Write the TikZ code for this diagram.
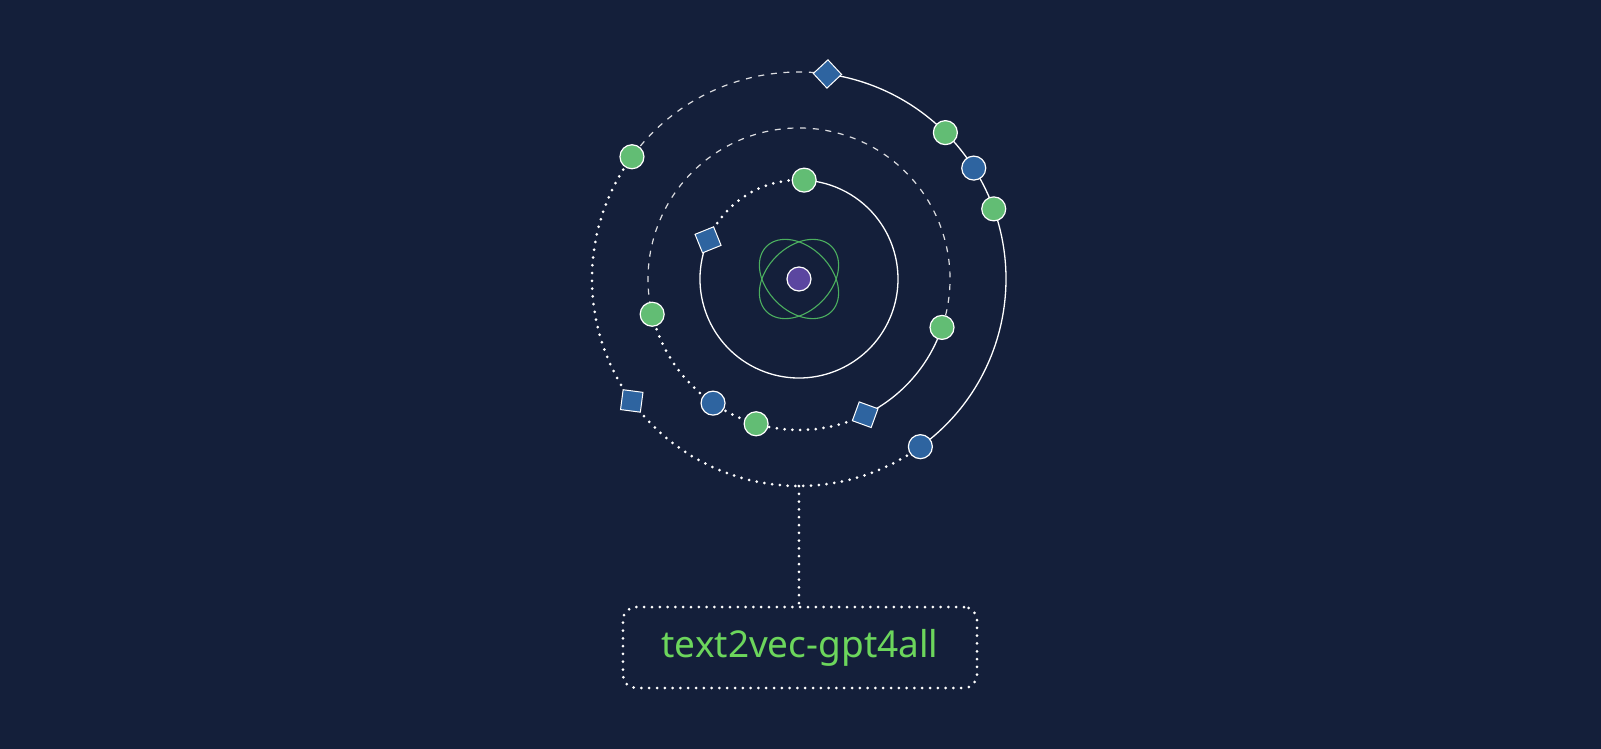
\documentclass[tikz,border=0pt]{standalone}
\usepackage{fontspec}
\newfontfamily\labelfont{Noto Sans}
\usetikzlibrary{calc}
\definecolor{bgnavy}{HTML}{141F3A}
\definecolor{dotgreen}{HTML}{62BD74}
\definecolor{dotblue}{HTML}{2E64A0}
\definecolor{corepurple}{HTML}{5B46A0}
\definecolor{atomgreen}{HTML}{4CAF5F}
\definecolor{textgreen}{HTML}{6CD65C}
\tikzset{
  every picture/.style={
    x=1pt, y=1pt
  },
  solidring/.style={
    draw=white, line width=1.3pt
  },
  dashring/.style={
    draw=white!85!bgnavy, line width=1.2pt,
    dash pattern=on 6pt off 6.7pt
  },
  dotring/.style={
    draw=white, line width=3pt, line cap=round,
    dash pattern=on 0pt off 7.8pt
  },
  gdot/.style={
    circle, fill=dotgreen, draw=white, line width=1.2pt,
    minimum size=24pt, inner sep=0pt
  },
  bdot/.style={
    gdot, fill=dotblue
  },
  bsquare/.style={
    rectangle, fill=dotblue, draw=white, line width=1pt,
    minimum size=20pt, inner sep=0pt
  }
}

\begin{document}
\begin{tikzpicture}
    \fill[bgnavy] (-799,279) rectangle (802,-470);
    \useasboundingbox (-799,279) rectangle (802,-470);
    % inner ring, r=99
    \draw[solidring] (156.7:99) arc[start angle=156.7, end angle=447, radius=99];
    \draw[dotring] (87:99) arc[start angle=87, end angle=156.7, radius=99];
    % middle ring, r=151
    \draw[dashring] (-18.7:151) arc[start angle=-18.7, end angle=193.5, radius=151];
    \draw[dotring] (193.5:151) arc[start angle=193.5, end angle=296, radius=151];
    \draw[solidring] (296:151) arc[start angle=296, end angle=341.3, radius=151];
    % outer ring, r=207
    \draw[solidring] (-54.1:207) arc[start angle=-54.1, end angle=82.1, radius=207];
    \draw[dashring] (82.1:207) arc[start angle=82.1, end angle=143.8, radius=207];
    \draw[dotring] (143.8:207) arc[start angle=143.8, end angle=305.9, radius=207];
    % atom
    \draw[atomgreen, line width=1.1pt, rotate=45] (0,0) ellipse[x radius=46, y radius=32];
    \draw[atomgreen, line width=1.1pt, rotate=-45] (0,0) ellipse[x radius=46, y radius=32];
    \node[gdot, fill=corepurple] (core) at (0,0) {};
    % inner ring items
    \node[gdot] (in1) at (87:99) {};
    \node[bsquare, rotate=22] (in2) at (156.7:99) {};
    % middle ring items
    \node[gdot] (mid1) at (193.5:151) {};
    \node[bdot] (mid2) at (235.3:151) {};
    \node[gdot] (mid3) at (253.5:151) {};
    \node[bsquare, rotate=-20] (mid4) at (296:151) {};
    \node[gdot] (mid5) at (341.3:151) {};
    % outer ring items
    \node[bsquare, rotate=43] (out1) at (82.1:207) {};
    \node[gdot] (out2) at (45:207) {};
    \node[bdot] (out3) at (32.4:207) {};
    \node[gdot] (out4) at (19.8:207) {};
    \node[bdot] (out5) at (305.9:207) {};
    \node[bsquare, rotate=-7.5] (out6) at (216.1:207) {};
    \node[gdot] (out7) at (143.8:207) {};
    % label
    \coordinate (ringbot) at (-90:207);
    \node[dotring, rounded corners=13pt, minimum width=354pt, minimum height=81pt,
      text=textgreen, font=\labelfont\fontsize{37}{42}\selectfont]
      (model) at (1,-368.5) {text2vec-gpt4all};
    \draw[dotring] (ringbot) -- (ringbot |- model.north);
\end{tikzpicture}
\end{document}
